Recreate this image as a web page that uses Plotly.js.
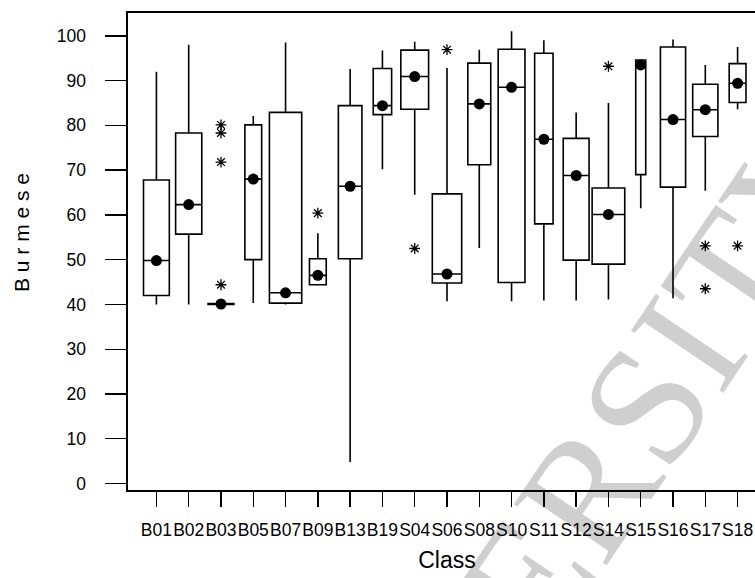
<!DOCTYPE html>
<html>
<head>
<meta charset="utf-8">
<script src="https://cdn.plot.ly/plotly-3.0.1.min.js"></script>
<style>
html,body{margin:0;padding:0;overflow:hidden;background:#fff;}
#chart{width:767px;height:578px;}
</style>
</head>
<body>
<div id="chart"></div>
<script>
// Categories
const classes = ["B01","B02","B03","B05","B07","B09","B13","B19","S04","S06","S08","S10","S11","S12","S14","S15","S16","S17","S18"];
// Box statistics
const lowerWhisker = [40.0, 40.0, 40.0, 40.3, 40.0, 44.4, 4.8, 70.2, 64.5, 40.7, 52.6, 40.7, 40.9, 40.9, 41.1, 61.5, 41.4, 65.4, 83.6];
const q1Values     = [42.0, 55.7, 40.0, 50.0, 40.3, 44.4, 50.2, 82.4, 83.6, 44.8, 71.2, 44.9, 58.0, 49.9, 49.0, 69.0, 66.2, 77.5, 85.1];
const medianValues = [49.8, 62.3, 40.1, 68.0, 42.6, 46.5, 66.4, 84.4, 90.9, 46.8, 84.8, 88.5, 76.9, 68.8, 60.1, 93.5, 81.3, 83.5, 89.4];
const q3Values     = [67.8, 78.3, 40.2, 80.1, 82.9, 50.2, 84.4, 92.7, 96.8, 64.7, 93.9, 97.0, 96.1, 77.1, 66.0, 94.6, 97.5, 89.2, 93.8];
const upperWhisker = [92.0, 98.0, 40.2, 82.1, 98.5, 55.9, 92.6, 96.7, 98.7, 92.8, 96.9, 101.0, 99.0, 82.9, 85.0, 94.6, 99.2, 93.5, 97.5];
// Dot markers (sit on the median line)
const dotValues    = [49.8, 62.3, 40.1, 68.0, 42.6, 46.5, 66.4, 84.4, 90.9, 46.8, 84.8, 88.5, 76.9, 68.8, 60.1, 93.5, 81.3, 83.5, 89.4];
// Outliers
const outlierClass = ["B03","B03","B03","B03","B09","S04","S06","S14","S17","S17","S18"];
const outlierValue = [80.1, 78.3, 71.8, 44.4, 60.4, 52.5, 96.9, 93.2, 53.1, 43.5, 53.1];
// Y tick values
const yTicks = [0,10,20,30,40,50,60,70,80,90,100];
// Box widths (style, in category units)
const boxWidths = [0.80,0.81,0.80,0.52,1.00,0.52,0.73,0.57,0.86,0.91,0.71,0.83,0.57,0.80,1.01,0.31,0.78,0.78,0.52];

const FONT = '"Liberation Sans",Arial,sans-serif';

const traces = classes.map((c, i) => ({
  type: 'box',
  x: [c],
  q1: [q1Values[i]],
  median: [medianValues[i]],
  q3: [q3Values[i]],
  lowerfence: [lowerWhisker[i]],
  upperfence: [upperWhisker[i]],
  width: boxWidths[i],
  whiskerwidth: 0,
  boxpoints: false,
  fillcolor: 'rgba(255,255,255,0)',
  line: {color: '#000', width: 1.6},
  showlegend: false,
  hoverinfo: 'skip'
}));

traces.push({
  type: 'scatter', mode: 'markers',
  x: classes, y: dotValues,
  marker: {color: '#000', size: 11, symbol: 'circle'},
  showlegend: false, hoverinfo: 'skip'
});

traces.push({
  type: 'scatter', mode: 'markers',
  x: outlierClass, y: outlierValue,
  marker: {symbol: 'asterisk-open', size: 9, color: '#000', line: {color: '#000', width: 1.3}},
  showlegend: false, hoverinfo: 'skip'
});

const layout = {
  width: 767, height: 578,
  margin: {l: 128, r: 1, t: 13, b: 87.5},
  paper_bgcolor: '#fff', plot_bgcolor: '#fff',
  boxmode: 'overlay',
  font: {family: FONT, color: '#000', size: 17.5},
  xaxis: {
    type: 'category',
    categoryorder: 'array', categoryarray: classes,
    range: [-0.88, 18.88],
    showline: true, linecolor: '#000', linewidth: 1.6, mirror: true,
    ticks: 'outside', ticklen: 15, tickwidth: 1.4, tickcolor: '#000',
    tickangle: 0,
    ticklabelstandoff: 8,
    tickfont: {family: FONT, size: 17.5, color: '#000'},
    showgrid: false, zeroline: false,
    title: {text: 'Class', font: {family: FONT, size: 23, color: '#000'}, standoff: 13}
  },
  yaxis: {
    range: [-1.45, 105.1],
    tickvals: yTicks,
    showline: true, linecolor: '#000', linewidth: 1.6, mirror: true,
    ticks: 'outside', ticklen: 21, tickwidth: 1.4, tickcolor: '#000',
    ticklabelstandoff: 16,
    tickfont: {family: FONT, size: 17.5, color: '#000'},
    showgrid: false, zeroline: false
  },
  annotations: [
    {
      text: 'B\u00A0u\u00A0r\u00A0m\u00A0e\u00A0s\u00A0e',
      xref: 'paper', yref: 'paper', x: -0.166, y: 0.539,
      xanchor: 'center', yanchor: 'middle', textangle: -90, showarrow: false,
      font: {family: FONT, size: 21, color: '#000'}
    },
    {
      text: 'UNIVERSITY',
      xref: 'paper', yref: 'paper', x: 0.655, y: -0.135,
      xanchor: 'center', yanchor: 'middle', textangle: -56, showarrow: false,
      font: {family: '"Liberation Serif","DejaVu Serif",serif', size: 170, color: 'rgba(0,0,0,0.19)'}
    }
  ]
};

Plotly.newPlot('chart', traces, layout, {staticPlot: true, displayModeBar: false});
</script>
</body>
</html>
